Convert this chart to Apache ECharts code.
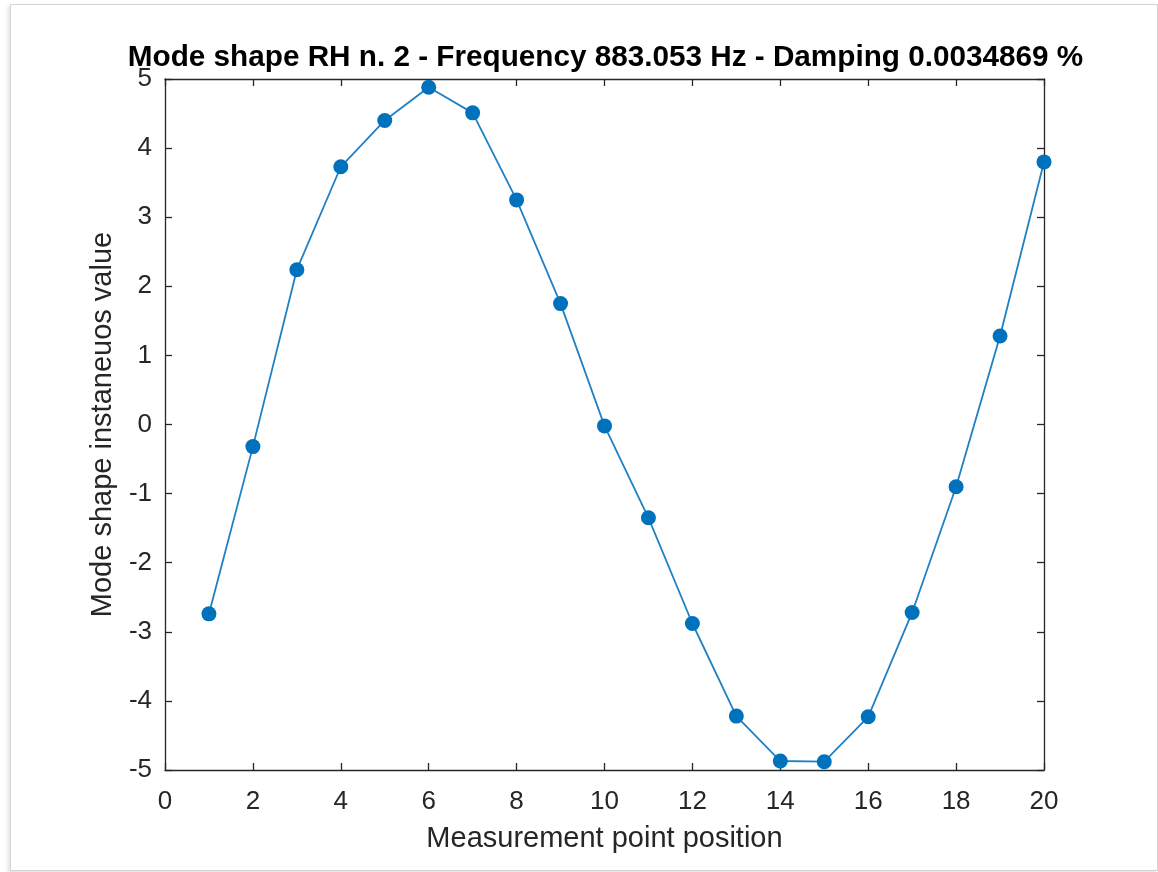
<!DOCTYPE html>
<html>
<head>
<meta charset="utf-8">
<title>Mode shape RH n. 2</title>
<script src="https://cdn.jsdelivr.net/npm/echarts@6/dist/echarts.min.js"></script>
<style>
  html, body { margin: 0; padding: 0; background: #ffffff; }
  #frame {
    position: absolute; left: 10px; top: 4px; width: 1146px; height: 865px;
    border: 1px solid #d4d4d4; box-shadow: -2px 2px 4px rgba(0,0,0,0.12);
    background: #ffffff;
  }
  #chart { position: absolute; left: 0; top: 0; width: 1158px; height: 872px; }
</style>
</head>
<body>
<div id="frame"></div>
<div id="chart"></div>
<script>
// Measurement point positions along the structure
const positions = [1, 2, 3, 4, 5, 6, 7, 8, 9, 10, 11, 12, 13, 14, 15, 16, 17, 18, 19, 20];
// Instantaneous mode-shape amplitude at each point
const modeValues = [-2.74, -0.32, 2.24, 3.73, 4.40, 4.88, 4.51, 3.25, 1.75, -0.02,
                    -1.35, -2.88, -4.22, -4.87, -4.88, -4.23, -2.72, -0.90, 1.28, 3.80];
// Axis ranges and tick spacing
const xRange = [0, 20], xStep = 2;
const yRange = [-5, 5], yStep = 1;

const titleText = 'Mode shape RH n. 2 - Frequency 883.053 Hz - Damping 0.0034869 %';
const xLabel = 'Measurement point position';
const yLabel = 'Mode shape instaneuos value';

const FONT = "'Liberation Sans', Arial, sans-serif";
const AXIS_COLOR = '#262626';
const LINE_COLOR = '#0072BD';

// Plot box margins (px)
const GRID = { left: 165, top: 79, right: 114, bottom: 102 };
const CHART_W = 1158;
const plotCenterX = GRID.left + (CHART_W - GRID.left - GRID.right) / 2;

const chart = echarts.init(document.getElementById('chart'), null, { renderer: 'canvas' });

// Box-style axis: line on the plot edge, short ticks pointing into the plot
const frameAxis = (extra) => Object.assign({
  type: 'value',
  axisLine: { show: true, onZero: false, lineStyle: { color: AXIS_COLOR, width: 1.3 } },
  axisTick: { show: true, inside: true, length: 7, lineStyle: { color: AXIS_COLOR, width: 1.3 } },
  splitLine: { show: false },
  axisLabel: { show: false }
}, extra);

chart.setOption({
  animation: false,
  backgroundColor: 'transparent',
  title: {
    text: titleText,
    left: plotCenterX - 4,
    textAlign: 'center',
    top: 38,
    textStyle: { fontFamily: FONT, fontWeight: 'bold', fontSize: 29.7, color: '#000000' }
  },
  grid: GRID,
  xAxis: [
    frameAxis({
      position: 'bottom',
      min: xRange[0], max: xRange[1], interval: xStep,
      name: xLabel,
      nameLocation: 'middle',
      nameGap: 54,
      nameTextStyle: { fontFamily: FONT, fontSize: 29, color: AXIS_COLOR },
      axisLabel: { show: true, margin: 19, fontFamily: FONT, fontSize: 26, color: AXIS_COLOR }
    }),
    frameAxis({ position: 'top', min: xRange[0], max: xRange[1], interval: xStep })
  ],
  yAxis: [
    frameAxis({
      position: 'left',
      min: yRange[0], max: yRange[1], interval: yStep,
      name: yLabel,
      nameLocation: 'middle',
      nameGap: 48,
      nameRotate: 90,
      nameTextStyle: { fontFamily: FONT, fontSize: 29, color: AXIS_COLOR },
      axisLabel: { show: true, margin: 13, fontFamily: FONT, fontSize: 26, color: AXIS_COLOR }
    }),
    frameAxis({ position: 'right', min: yRange[0], max: yRange[1], interval: yStep })
  ],
  series: [{
    type: 'line',
    xAxisIndex: 0,
    yAxisIndex: 0,
    data: positions.map((p, i) => [p, modeValues[i]]),
    symbol: 'circle',
    symbolSize: 15,
    lineStyle: { color: '#1f80c4', width: 1.8 },
    itemStyle: { color: LINE_COLOR, borderWidth: 0 },
    clip: false
  }]
});
</script>
</body>
</html>
